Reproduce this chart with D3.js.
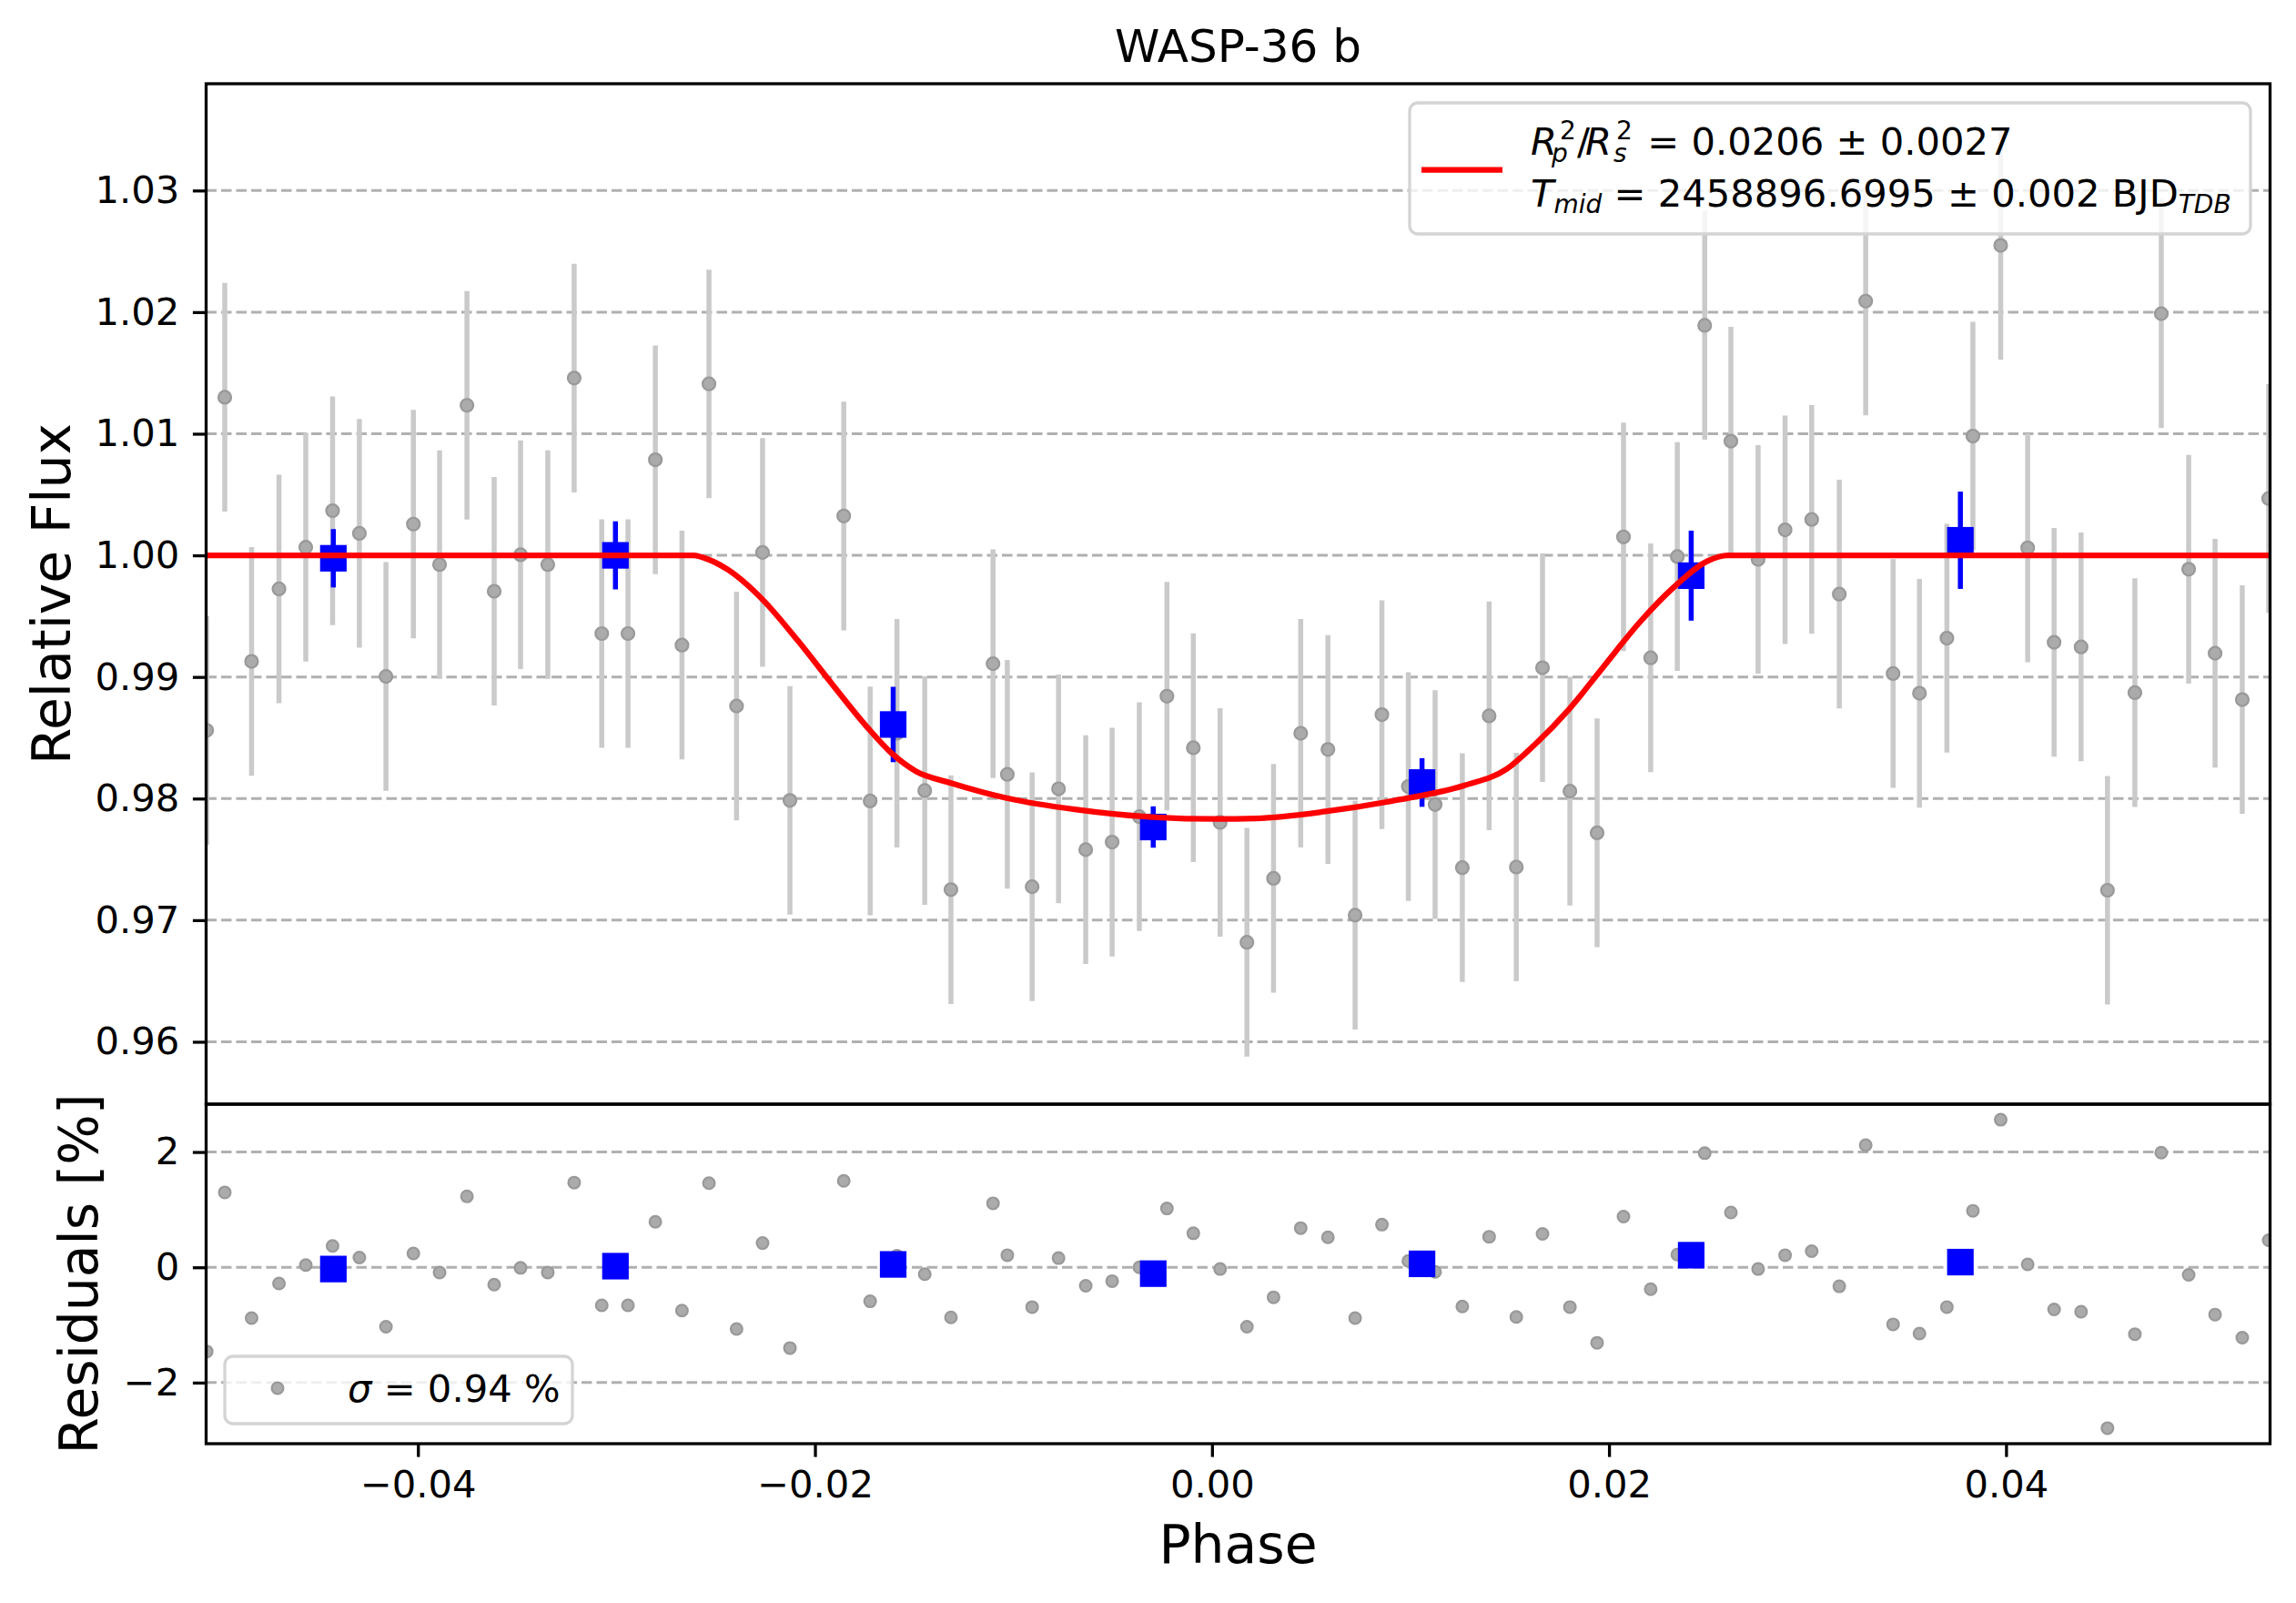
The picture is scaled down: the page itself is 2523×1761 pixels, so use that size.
<!DOCTYPE html>
<html>
<head>
<meta charset="utf-8">
<script src="https://cdn.jsdelivr.net/npm/d3@7"></script>
<style>
  body { margin: 0; background: #fff; }
  svg { display: block; font-family: "DejaVu Sans", sans-serif; }
</style>
</head>
<body>
<div id="root"></div>
<script>
// unbinned points: phase, relative flux, residual [%]
const phase = [-0.05064, -0.04973, -0.04838, -0.04700, -0.04565, -0.04430, -0.04295, -0.04161, -0.04023, -0.03891,
  -0.03753, -0.03616, -0.03483, -0.03346, -0.03213, -0.03074, -0.02942, -0.02804, -0.02670, -0.02534,
  -0.02395, -0.02264, -0.02126, -0.01855, -0.01722, -0.01587, -0.01447, -0.01315, -0.01103, -0.01031,
  -0.00906, -0.00773, -0.00636, -0.00503, -0.00366, -0.00227, -0.00094, 0.00041, 0.00176, 0.00310,
  0.00447, 0.00584, 0.00721, 0.00856, 0.00989, 0.01124, 0.01261, 0.01396, 0.01533, 0.01665,
  0.01803, 0.01940, 0.02073, 0.02210, 0.02344, 0.02482, 0.02614, 0.02751, 0.02887, 0.03021,
  0.03160, 0.03293, 0.03431, 0.03564, 0.03702, 0.03833, 0.03973, 0.04109, 0.04242, 0.04378,
  0.04511, 0.04649, 0.04782, 0.04920, 0.05053, 0.05190, 0.05323];
const flux = [0.98561, 1.01300, 0.99128, 0.99724, 1.00067, 1.00367, 1.00181, 0.99004, 1.00257, 0.99924,
  1.01234, 0.99705, 1.00005, 0.99924, 1.01458, 0.99357, 0.99357, 1.00786, 0.99262, 1.01410,
  0.98761, 1.00024, 0.97985, 1.00324, 0.97980, 0.98537, 0.98066, 0.97251, 0.99109, 0.98199,
  0.97275, 0.98080, 0.97580, 0.97642, 0.97851, 0.98842, 0.98418, 0.97804, 0.96818, 0.97344,
  0.98537, 0.98404, 0.97041, 0.98690, 0.98099, 0.97951, 0.97432, 0.98680, 0.97437, 0.99076,
  0.98061, 0.97718, 1.00152, 0.99157, 0.99990, 1.01891, 1.00939, 0.99967, 1.00210, 1.00295,
  0.99681, 1.02091, 0.99028, 0.98866, 0.99319, 1.00981, 1.02549, 1.00062, 0.99285, 0.99247,
  0.97246, 0.98871, 1.01987, 0.99886, 0.99195, 0.98814, 1.00467];
const resid = [-1.46, 1.30, -0.88, -0.28, 0.04, 0.37, 0.17, -1.03, 0.24, -0.09,
  1.23, -0.30, -0.01, -0.09, 1.47, -0.66, -0.66, 0.79, -0.75, 1.46,
  -1.07, 0.42, -1.40, 1.50, -0.59, 0.20, -0.12, -0.87, 1.11, 0.21,
  -0.69, 0.16, -0.32, -0.24, 0.00, 1.02, 0.59, -0.03, -1.03, -0.52,
  0.68, 0.52, -0.88, 0.74, 0.11, -0.08, -0.68, 0.53, -0.86, 0.58,
  -0.69, -1.31, 0.88, -0.38, 0.22, 1.98, 0.95, -0.03, 0.21, 0.28,
  -0.33, 2.12, -0.99, -1.15, -0.69, 0.98, 2.56, 0.05, -0.73, -0.77,
  -2.79, -1.16, 1.99, -0.13, -0.82, -1.22, 0.47];
const fluxErr = 0.0094;

// binned points
const binPhase = [-0.04426, -0.03005, -0.01606, -0.00296, 0.01058, 0.02414, 0.03770];
const binFlux = [0.99976, 1.00000, 0.98609, 0.97766, 0.98132, 0.99833, 1.00124];
const binErr = [0.0024, 0.0028, 0.0031, 0.0017, 0.0020, 0.0037, 0.0040];
const binResid = [-0.03, 0.02, 0.05, -0.11, 0.06, 0.21, 0.09];

// transit model curve
const modelPhase = [-0.05064, -0.02614, -0.02535, -0.02438, -0.02262, -0.02087, -0.01912, -0.01736, -0.01613,
  -0.01490, -0.01315, -0.01034, -0.00683, -0.00333, 0.00018, 0.00221, 0.00572, 0.00923, 0.01273,
  0.01484, 0.01625, 0.01800, 0.01975, 0.02151, 0.02326, 0.02501, 0.02598, 0.05323];
const modelFlux = [1.00000, 1.00000, 0.99965, 0.99881, 0.99633, 0.99300, 0.98938, 0.98585, 0.98371,
  0.98223, 0.98128, 0.98004, 0.97909, 0.97851, 0.97832, 0.97837, 0.97894, 0.97985, 0.98109,
  0.98242, 0.98442, 0.98737, 0.99090, 0.99443, 0.99738, 0.99957, 1.00000, 1.00000];

const xTicks = [-0.04, -0.02, 0.00, 0.02, 0.04];
const yTicks = [0.96, 0.97, 0.98, 0.99, 1.00, 1.01, 1.02, 1.03];
const resTicks = [-2, 0, 2];

const W = 2523, H = 1761;
const left = 226.5, right = 2494.5, mainTop = 92, mainBot = 1213, resBot = 1586;
const fs = 41.7, fsLabel = 58.3, fsTitle = 50, fsSmall = 28;

const svg = d3.select("#root").append("svg")
    .attr("width", W)
    .attr("height", H);
svg.append("rect").attr("width", W).attr("height", H).attr("fill", "#fff");

const x = d3.scaleLinear().domain([-0.05067, 0.05330]).range([left, right]);
const yMain = d3.scaleLinear().domain([0.95487, 1.03878]).range([mainBot, mainTop]);
const yRes = d3.scaleLinear().domain([-3.06, 2.83]).range([resBot, mainBot]);

const defs = svg.append("defs");
defs.append("clipPath").attr("id", "clipMain")
  .append("rect").attr("x", left).attr("y", mainTop).attr("width", right - left).attr("height", mainBot - mainTop);
defs.append("clipPath").attr("id", "clipRes")
  .append("rect").attr("x", left).attr("y", mainBot).attr("width", right - left).attr("height", resBot - mainBot);

function styleAxis(g) {
  g.select(".domain").remove();
  g.selectAll(".tick line").attr("stroke", "#000").attr("stroke-width", 3.3);
  g.selectAll(".tick text").attr("fill", "#000").attr("font-size", fs).attr("font-family", "DejaVu Sans");
}

function gridLines(scale, ticks) {
  svg.append("g").selectAll("line")
    .data(ticks)
    .enter()
    .append("line")
      .attr("x1", left)
      .attr("x2", right)
      .attr("y1", d => scale(d))
      .attr("y2", d => scale(d))
      .attr("stroke", "#b0b0b0")
      .attr("stroke-width", 3)
      .attr("stroke-dasharray", "11.5,5");
}

// ---- main panel
gridLines(yMain, yTicks);

const main = svg.append("g").attr("clip-path", "url(#clipMain)");
const pts = phase.map((p, i) => ({ p: p, f: flux[i], r: resid[i] }));

main.append("g").selectAll("line")
  .data(pts)
  .enter()
  .append("line")
    .attr("x1", d => x(d.p))
    .attr("x2", d => x(d.p))
    .attr("y1", d => yMain(d.f - fluxErr))
    .attr("y2", d => yMain(d.f + fluxErr))
    .attr("stroke", "#cacaca")
    .attr("stroke-width", 5.5);

main.append("g").selectAll("circle")
  .data(pts)
  .enter()
  .append("circle")
    .attr("cx", d => x(d.p))
    .attr("cy", d => yMain(d.f))
    .attr("r", 7)
    .attr("fill", "#ababab")
    .attr("stroke", "#999")
    .attr("stroke-width", 2.2);

const bins = binPhase.map((p, i) => ({ p: p, f: binFlux[i], e: binErr[i], r: binResid[i] }));

main.append("g").selectAll("line")
  .data(bins)
  .enter()
  .append("line")
    .attr("x1", d => x(d.p))
    .attr("x2", d => x(d.p))
    .attr("y1", d => yMain(d.f - d.e))
    .attr("y2", d => yMain(d.f + d.e))
    .attr("stroke", "#0000ff")
    .attr("stroke-width", 5.5);

main.append("g").selectAll("rect")
  .data(bins)
  .enter()
  .append("rect")
    .attr("x", d => x(d.p) - 14.6)
    .attr("y", d => yMain(d.f) - 14.6)
    .attr("width", 29.2)
    .attr("height", 29.2)
    .attr("fill", "#0000ff");

const model = modelPhase.map((p, i) => [p, modelFlux[i]]);
const line = d3.line()
  .x(d => x(d[0]))
  .y(d => yMain(d[1]))
  .curve(d3.curveMonotoneX);

main.append("path")
  .datum(model)
  .attr("d", line)
  .attr("fill", "none")
  .attr("stroke", "#ff0000")
  .attr("stroke-width", 6.3)
  .attr("stroke-linejoin", "round");

svg.append("g")
  .attr("transform", `translate(${left},0)`)
  .call(d3.axisLeft(yMain).tickValues(yTicks).tickFormat(d3.format(".2f")).tickSize(14.6).tickPadding(14.6))
  .call(styleAxis);

svg.append("rect")
  .attr("x", left).attr("y", mainTop)
  .attr("width", right - left).attr("height", mainBot - mainTop)
  .attr("fill", "none").attr("stroke", "#000").attr("stroke-width", 3.3);

// legend (main)
const leg = svg.append("g");
leg.append("rect")
  .attr("x", 1549).attr("y", 113)
  .attr("width", 924).attr("height", 144)
  .attr("rx", 9)
  .attr("fill", "#fff").attr("fill-opacity", 0.8)
  .attr("stroke", "#d4d4d4").attr("stroke-width", 3.3);
leg.append("line")
  .attr("x1", 1562).attr("x2", 1651)
  .attr("y1", 186.6).attr("y2", 186.6)
  .attr("stroke", "#ff0000").attr("stroke-width", 6.3);

// mathtext-like label: scripts placed with absolute tspan positions
const t1 = leg.append("text").attr("font-size", fs);
t1.append("tspan").attr("x", 1682).attr("y", 170).attr("font-style", "italic").text("R");
t1.append("tspan").attr("x", 1705).attr("y", 178).attr("font-size", fsSmall).attr("font-style", "italic").text("p");
t1.append("tspan").attr("x", 1714).attr("y", 153).attr("font-size", fsSmall).text("2");
t1.append("tspan").attr("x", 1733).attr("y", 170).text("/");
t1.append("tspan").attr("x", 1742).attr("y", 170).attr("font-style", "italic").text("R");
t1.append("tspan").attr("x", 1773).attr("y", 178).attr("font-size", fsSmall).attr("font-style", "italic").text("s");
t1.append("tspan").attr("x", 1776).attr("y", 153).attr("font-size", fsSmall).text("2");
t1.append("tspan").attr("x", 1797).attr("y", 170).text(" = 0.0206 \u00b1 0.0027");

const t2 = leg.append("text").attr("x", 1682).attr("y", 227).attr("font-size", fs);
t2.append("tspan").attr("font-style", "italic").text("T");
t2.append("tspan").attr("font-size", fsSmall).attr("font-style", "italic").attr("dy", 7).text("mid");
t2.append("tspan").attr("dy", -7).text(" = 2458896.6995 \u00b1 0.002 BJD");
t2.append("tspan").attr("font-size", fsSmall).attr("font-style", "italic").attr("dy", 7).text("TDB");

// ---- residual panel
gridLines(yRes, resTicks);

const res = svg.append("g").attr("clip-path", "url(#clipRes)");
res.append("g").selectAll("circle")
  .data(pts)
  .enter()
  .append("circle")
    .attr("cx", d => x(d.p))
    .attr("cy", d => yRes(d.r))
    .attr("r", 6.4)
    .attr("fill", "#ababab")
    .attr("stroke", "#999")
    .attr("stroke-width", 2.2);

res.append("g").selectAll("rect")
  .data(bins)
  .enter()
  .append("rect")
    .attr("x", d => x(d.p) - 14.6)
    .attr("y", d => yRes(d.r) - 14.6)
    .attr("width", 29.2)
    .attr("height", 29.2)
    .attr("fill", "#0000ff");

svg.append("g")
  .attr("transform", `translate(${left},0)`)
  .call(d3.axisLeft(yRes).tickValues(resTicks).tickFormat(d3.format("d")).tickSize(14.6).tickPadding(14.6))
  .call(styleAxis);

svg.append("g")
  .attr("transform", `translate(0,${resBot})`)
  .call(d3.axisBottom(x).tickValues(xTicks).tickFormat(d3.format(".2f")).tickSize(14.6).tickPadding(14.6))
  .call(styleAxis);

svg.append("rect")
  .attr("x", left).attr("y", mainBot)
  .attr("width", right - left).attr("height", resBot - mainBot)
  .attr("fill", "none").attr("stroke", "#000").attr("stroke-width", 3.3);

// legend (residuals)
const leg2 = svg.append("g");
leg2.append("rect")
  .attr("x", 247).attr("y", 1490)
  .attr("width", 382).attr("height", 74)
  .attr("rx", 9)
  .attr("fill", "#fff").attr("fill-opacity", 0.8)
  .attr("stroke", "#d4d4d4").attr("stroke-width", 3.3);
leg2.append("circle")
  .attr("cx", 305).attr("cy", 1525)
  .attr("r", 6.4)
  .attr("fill", "#ababab").attr("stroke", "#999").attr("stroke-width", 2.2);
const t3 = leg2.append("text").attr("x", 382).attr("y", 1540).attr("font-size", fs);
t3.append("tspan").attr("font-style", "italic").text("\u03c3");
t3.append("tspan").text(" = 0.94 %");

// ---- titles and labels
svg.append("text")
  .attr("x", (left + right) / 2)
  .attr("y", 67.7)
  .attr("text-anchor", "middle")
  .attr("font-size", fsTitle)
  .text("WASP-36 b");

svg.append("text")
  .attr("x", (left + right) / 2)
  .attr("y", 1717)
  .attr("text-anchor", "middle")
  .attr("font-size", fsLabel)
  .text("Phase");

svg.append("text")
  .attr("transform", `translate(76.5, ${(mainTop + mainBot) / 2}) rotate(-90)`)
  .attr("text-anchor", "middle")
  .attr("font-size", fsLabel)
  .text("Relative Flux");

svg.append("text")
  .attr("transform", `translate(107.3, ${(mainBot + resBot) / 2}) rotate(-90)`)
  .attr("text-anchor", "middle")
  .attr("font-size", fsLabel)
  .text("Residuals [%]");
</script>
</body>
</html>
